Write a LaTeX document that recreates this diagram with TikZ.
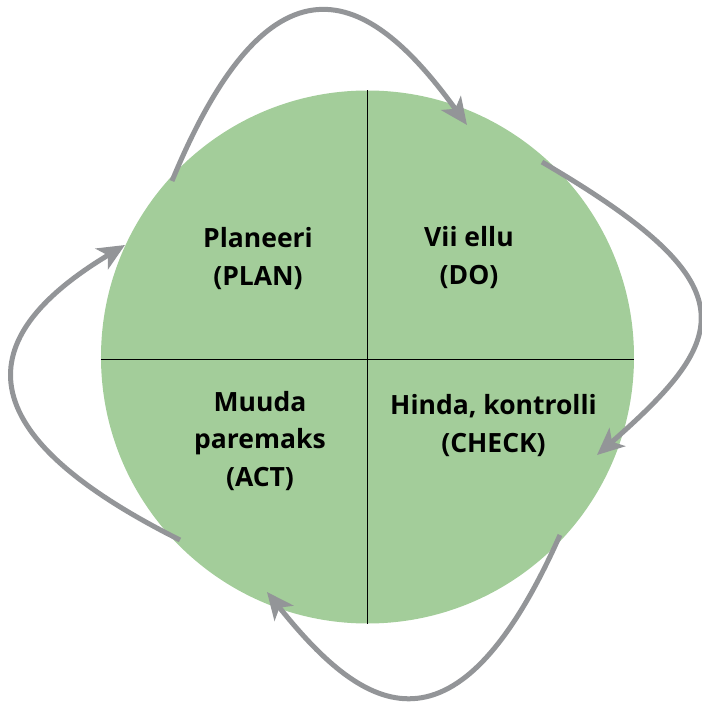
\documentclass[tikz,border=0pt]{standalone}
\usepackage{fontspec}
\setmainfont{Open Sans}
\usetikzlibrary{arrows.meta}
\definecolor{plategreen}{HTML}{A3CD9A}
\definecolor{arrowgray}{HTML}{939598}

\begin{document}
\begin{tikzpicture}[
        x=1pt, y=1pt,
        phase/.style={
            anchor=base,
            align=center,
            font=\fontsize{26.5}{37.5}\selectfont\bfseries
        },
        pdca arrow/.style={
            draw=arrowgray,
            line width=5pt,
            -{Stealth[length=27pt, width=24pt, inset=7pt]}
        }
    ]
        \useasboundingbox (-367.5,-345) rectangle (334.5,357);

        % ring
        \node[circle, fill=plategreen, minimum size=533pt, inner sep=0pt] (plate) at (0,0) {};
        \draw[line width=1.3pt] (plate.north) -- (plate.south);
        \draw[line width=1.3pt] ([yshift=-2.5pt]plate.west) -- ([yshift=-2.5pt]plate.east);

        % four phases (base = last line)
        \node[phase] (plan) at (-109.5,72) {Planeeri\\(PLAN)};
        \node[phase] (do) at (101.5,73) {Vii ellu\\(DO)};
        \node[phase] (check) at (126,-95) {Hinda, kontrolli\\(CHECK)};
        \node[phase] (act) at (-107.5,-129) {Muuda\\paremaks\\(ACT)};

        % arrow ends
        \coordinate (planOut) at (-195.5,176);
        \coordinate (doIn) at (99.5,232);
        \coordinate (doOut) at (174.5,195);
        \coordinate (checkIn) at (229.5,-98);
        \coordinate (checkOut) at (192.5,-178);
        \coordinate (actIn) at (-100.5,-235);
        \coordinate (actOut) at (-187.5,-183);
        \coordinate (planIn) at (-242.5,112);

        \draw[pdca arrow] (planOut) .. controls (-88,436) and (14,350) .. (doIn);
        \draw[pdca arrow] (doOut) .. controls (385,72) and (364,20) .. (checkIn);
        \draw[pdca arrow] (checkOut) .. controls (84.6,-420.8) and (-9.9,-348.2) .. (actIn);
        \draw[pdca arrow] (actOut) .. controls (-413.4,-70) and (-388.5,24.4) .. (planIn);
    \end{tikzpicture}
\end{document}
